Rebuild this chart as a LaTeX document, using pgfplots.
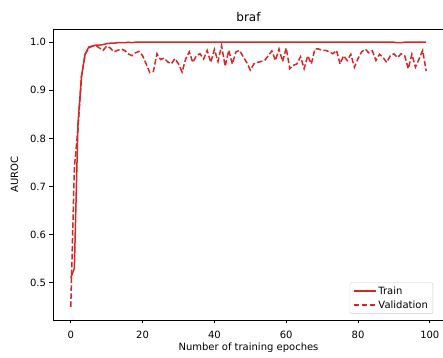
\documentclass[border=0pt]{standalone}
\usepackage{pgfplots}
\pgfplotsset{compat=1.18}
\usepackage{fontspec}
\setmainfont{DejaVu Sans}
\definecolor{tabred}{HTML}{D62728}
\begin{document}
\begin{tikzpicture}
\begin{axis}[
  name=ax,
  at={(0,0)}, anchor=south west,
  scale only axis,
  width=391pt, height=291pt,
  xmin=-4.95, xmax=103.95,
  ymin=0.4225, ymax=1.0275,
  xtick={0,20,40,60,80,100},
  ytick={0.5,0.6,0.7,0.8,0.9,1.0},
  yticklabel style={/pgf/number format/.cd,fixed,fixed zerofill,precision=1},
  xticklabel style={yshift=-4.5pt},
  /pgf/number format/assume math mode=true,
  tick align=outside,
  major tick length=3.5pt,
  tick style={black,line width=0.8pt},
  xtick pos=bottom, ytick pos=left,
  axis line style={black,line width=0.8pt},
  tick label style={font=\fontsize{10}{12}\selectfont},
  label style={font=\fontsize{10}{12}\selectfont},
  title={braf},
  title style={font=\fontsize{12}{14}\selectfont,yshift=-2.5pt},
  xlabel={Number of training epoches},
  xlabel style={yshift=3pt},
  ylabel={AUROC},
  ylabel shift=5pt,
  legend style={at={(0.972,0.021)},anchor=south east,draw=black!20,rounded corners=2pt,
    font=\fontsize{10}{12}\selectfont,row sep=1pt,inner xsep=3pt,inner ysep=2pt},
  legend cell align=left,
  legend image code/.code={\draw[#1] (0pt,0pt) -- (22pt,0pt);},
]
\addplot[tabred,line width=1.5pt] coordinates {
(0,0.51) (1,0.53) (2,0.83) (3,0.93) (4,0.975) (5,0.99) (6,0.992) (7,0.994) (8,0.994) (9,0.995)
(10,0.997) (11,0.998) (12,0.998) (13,0.999) (14,0.999) (15,0.999) (16,1.0) (17,0.999) (18,1.0) (19,1.0)
(20,1.0) (21,1.0) (22,1.0) (23,1.0) (24,1.0) (25,1.0) (26,1.0) (27,1.0) (28,1.0) (29,1.0)
(30,1.0) (31,1.0) (32,1.0) (33,1.0) (34,1.0) (35,1.0) (36,1.0) (37,1.0) (38,1.0) (39,1.0)
(40,1.0) (41,1.0) (42,1.0) (43,1.0) (44,1.0) (45,1.0) (46,1.0) (47,1.0) (48,1.0) (49,1.0)
(50,1.0) (51,1.0) (52,1.0) (53,1.0) (54,1.0) (55,1.0) (56,1.0) (57,1.0) (58,1.0) (59,1.0)
(60,1.0) (61,1.0) (62,1.0) (63,1.0) (64,1.0) (65,1.0) (66,1.0) (67,1.0) (68,1.0) (69,1.0)
(70,1.0) (71,1.0) (72,1.0) (73,1.0) (74,1.0) (75,1.0) (76,1.0) (77,1.0) (78,1.0) (79,1.0)
(80,1.0) (81,1.0) (82,1.0) (83,1.0) (84,1.0) (85,1.0) (86,1.0) (87,1.0) (88,1.0) (89,1.0)
(90,1.0) (91,0.999) (92,0.999) (93,1.0) (94,1.0) (95,1.0) (96,1.0) (97,1.0) (98,1.0) (99,1.0)
};
\addlegendentry{Train}
\addplot[tabred,line width=1.5pt,dash pattern=on 5.5pt off 2.4pt] coordinates {
(0,0.45) (1,0.74) (2,0.82) (3,0.93) (4,0.975) (5,0.988) (6,0.992) (7,0.993) (8,0.988) (9,0.983)
(10,0.992) (11,0.988) (12,0.980) (13,0.983) (14,0.986) (15,0.983) (16,0.976) (17,0.972) (18,0.978) (19,0.981)
(20,0.972) (21,0.955) (22,0.937) (23,0.939) (24,0.976) (25,0.964) (26,0.967) (27,0.959) (28,0.955) (29,0.966)
(30,0.955) (31,0.938) (32,0.965) (33,0.980) (34,0.958) (35,0.972) (36,0.976) (37,0.965) (38,0.983) (39,0.958)
(40,0.985) (41,0.960) (42,0.993) (43,0.950) (44,0.983) (45,0.955) (46,0.980) (47,0.983) (48,0.970) (49,0.958)
(50,0.942) (51,0.955) (52,0.958) (53,0.960) (54,0.962) (55,0.972) (56,0.982) (57,0.962) (58,0.986) (59,0.960)
(60,0.988) (61,0.945) (62,0.952) (63,0.955) (64,0.970) (65,0.945) (66,0.972) (67,0.955) (68,0.986) (69,0.986)
(70,0.983) (71,0.983) (72,0.980) (73,0.976) (74,0.983) (75,0.955) (76,0.972) (77,0.962) (78,0.975) (79,0.948)
(80,0.966) (81,0.980) (82,0.986) (83,0.978) (84,0.982) (85,0.962) (86,0.975) (87,0.968) (88,0.958) (89,0.972)
(90,0.976) (91,0.968) (92,0.976) (93,0.972) (94,0.945) (95,0.975) (96,0.948) (97,0.965) (98,0.983) (99,0.940)
};
\addlegendentry{Validation}
\end{axis}
\pgfresetboundingbox
\path[use as bounding box] ([xshift=-53pt,yshift=-38pt]ax.south west) rectangle ([xshift=-1pt,yshift=29pt]ax.north east);
\end{tikzpicture}
\end{document}
